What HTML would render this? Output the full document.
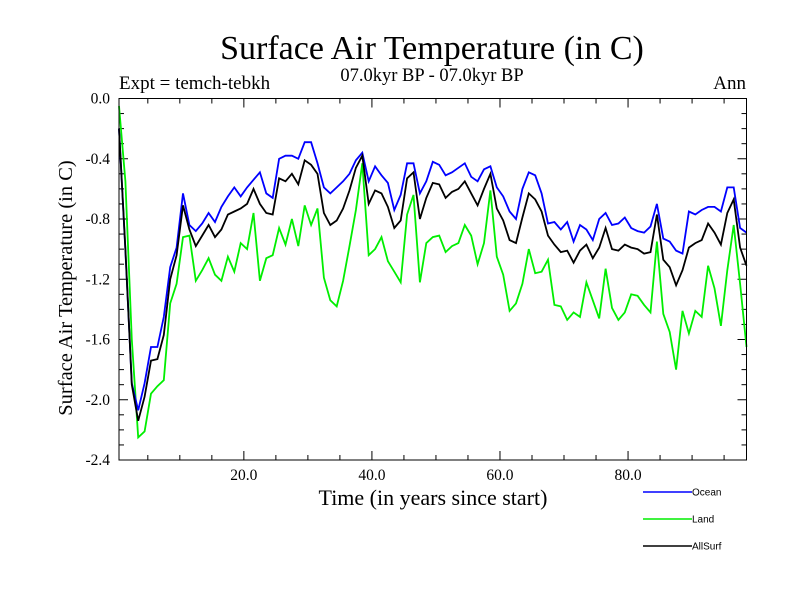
<!DOCTYPE html>
<html><head><meta charset="utf-8"><style>
body{margin:0;background:#fff}
svg{display:block}
text{font-family:"Liberation Serif",serif;fill:#000}
.leg{font-family:"Liberation Sans",sans-serif;font-size:10px}
</style></head><body>
<svg id="chart" width="800" height="600">
<text x="432" y="59" text-anchor="middle" font-size="34">Surface Air Temperature (in C)</text>
<text x="432" y="81" text-anchor="middle" font-size="18.5">07.0kyr BP - 07.0kyr BP</text>
<text x="119" y="89" font-size="19">Expt = temch-tebkh</text>
<text x="746" y="89" text-anchor="end" font-size="19">Ann</text>
<text transform="translate(72,288) rotate(-90)" text-anchor="middle" font-size="20.5">Surface Air Temperature (in C)</text>
<text x="433" y="505" text-anchor="middle" font-size="22">Time (in years since start)</text>
<g id="ticks"></g>
<g id="lines"></g>
<rect x="119" y="98.5" width="627.5" height="361.5" fill="none" stroke="#000" stroke-width="1"/>
<g>
<line x1="643" y1="492" x2="692" y2="492" stroke="#0000ff" stroke-width="1.5"/>
<text class="leg" x="692" y="495.5">Ocean</text>
<line x1="643" y1="519" x2="692" y2="519" stroke="#00ee00" stroke-width="1.5"/>
<text class="leg" x="692" y="522.5">Land</text>
<line x1="643" y1="546" x2="692" y2="546" stroke="#000" stroke-width="1.5"/>
<text class="leg" x="692" y="549.5">AllSurf</text>
</g>
</svg>
<script>
const ocean=[-0.20,-1.01,-1.89,-2.07,-1.89,-1.65,-1.65,-1.45,-1.12,-0.99,-0.63,-0.84,-0.88,-0.83,-0.76,-0.82,-0.72,-0.65,-0.59,-0.65,-0.59,-0.54,-0.49,-0.63,-0.66,-0.40,-0.38,-0.38,-0.40,-0.29,-0.29,-0.43,-0.59,-0.63,-0.59,-0.55,-0.50,-0.41,-0.36,-0.55,-0.45,-0.51,-0.56,-0.74,-0.64,-0.43,-0.43,-0.63,-0.55,-0.42,-0.44,-0.51,-0.49,-0.46,-0.43,-0.52,-0.55,-0.47,-0.45,-0.59,-0.65,-0.75,-0.80,-0.60,-0.49,-0.51,-0.63,-0.83,-0.82,-0.87,-0.82,-0.95,-0.84,-0.87,-0.94,-0.80,-0.76,-0.84,-0.83,-0.79,-0.86,-0.88,-0.89,-0.85,-0.70,-0.93,-0.95,-1.01,-1.03,-0.75,-0.77,-0.74,-0.72,-0.72,-0.75,-0.59,-0.59,-0.86,-0.89];
const land=[-0.05,-0.55,-1.60,-2.25,-2.21,-1.96,-1.91,-1.87,-1.36,-1.23,-0.92,-0.91,-1.21,-1.14,-1.06,-1.17,-1.21,-1.05,-1.15,-0.96,-1.00,-0.76,-1.21,-1.06,-1.04,-0.86,-0.97,-0.80,-0.98,-0.71,-0.84,-0.73,-1.19,-1.34,-1.38,-1.21,-0.98,-0.74,-0.43,-1.04,-1.00,-0.92,-1.08,-1.15,-1.22,-0.77,-0.64,-1.22,-0.96,-0.92,-0.91,-1.02,-0.98,-0.96,-0.84,-0.91,-1.10,-0.96,-0.61,-1.05,-1.17,-1.41,-1.36,-1.23,-1.00,-1.16,-1.15,-1.07,-1.37,-1.38,-1.47,-1.42,-1.45,-1.22,-1.34,-1.46,-1.13,-1.39,-1.47,-1.42,-1.30,-1.31,-1.37,-1.42,-0.95,-1.43,-1.55,-1.80,-1.41,-1.56,-1.41,-1.45,-1.11,-1.26,-1.51,-1.14,-0.84,-1.23,-1.65];
const allsurf=[-0.20,-1.00,-1.90,-2.14,-1.98,-1.74,-1.73,-1.57,-1.20,-1.04,-0.71,-0.87,-0.98,-0.91,-0.84,-0.92,-0.87,-0.77,-0.75,-0.73,-0.70,-0.60,-0.70,-0.76,-0.77,-0.53,-0.55,-0.50,-0.57,-0.41,-0.44,-0.50,-0.76,-0.84,-0.81,-0.73,-0.61,-0.46,-0.38,-0.70,-0.61,-0.63,-0.72,-0.86,-0.81,-0.53,-0.49,-0.80,-0.66,-0.56,-0.57,-0.66,-0.62,-0.60,-0.55,-0.63,-0.71,-0.60,-0.50,-0.73,-0.81,-0.94,-0.96,-0.79,-0.63,-0.67,-0.75,-0.91,-0.97,-1.02,-1.01,-1.09,-1.01,-0.97,-1.06,-0.99,-0.86,-1.00,-1.01,-0.97,-0.99,-1.00,-1.03,-1.02,-0.77,-1.07,-1.12,-1.24,-1.14,-0.99,-0.96,-0.94,-0.83,-0.89,-0.97,-0.76,-0.67,-0.99,-1.11];
const xTickLabels=["20.0","40.0","60.0","80.0"];
const xTickValues=[20,40,60,80];
const yTickLabels=["0.0","-0.4","-0.8","-1.2","-1.6","-2.0","-2.4"];
const yTickValues=[0,-0.4,-0.8,-1.2,-1.6,-2.0,-2.4];
const X0=0.5,X1=98.5,Y0=0,Y1=-2.4;
const L=119,R=746.5,T=98.5,B=460;
function xs(t){return L+(t-X0)/(X1-X0)*(R-L);}
function ys(v){return T+(v-Y0)/(Y1-Y0)*(B-T);}
const NS="http://www.w3.org/2000/svg";
const tg=document.getElementById('ticks');
function ln(x1,y1,x2,y2){const e=document.createElementNS(NS,'line');e.setAttribute('x1',x1);e.setAttribute('y1',y1);e.setAttribute('x2',x2);e.setAttribute('y2',y2);e.setAttribute('stroke','#000');e.setAttribute('stroke-width','1');


tg.appendChild(e);}
for(let t=5;t<X1;t+=5){const x=xs(t);const len=(t%20===0)?9:5;ln(x,B,x,B-len);ln(x,T,x,T+len);}
for(let k=0;k<=24;k++){const v=-k*0.1;const y=ys(v);const len=(k%4===0)?9:5;ln(L,y,L+len,y);ln(R,y,R-len,y);}
xTickValues.forEach((v,i)=>{const e=document.createElementNS(NS,'text');e.setAttribute('x',xs(v));e.setAttribute('y',480);e.setAttribute('text-anchor','middle');e.setAttribute('font-size','15.5');e.textContent=xTickLabels[i];


tg.appendChild(e);});
yTickValues.forEach((v,i)=>{const e=document.createElementNS(NS,'text');e.setAttribute('x',110);e.setAttribute('y',ys(v)+5);e.setAttribute('text-anchor','end');e.setAttribute('font-size','15.5');e.textContent=yTickLabels[i];


tg.appendChild(e);});
const lg=document.getElementById('lines');
function series(arr,color,name){const p=document.createElementNS(NS,'polyline');p.setAttribute('points',arr.map((v,i)=>xs(X0+i).toFixed(1)+','+ys(v).toFixed(1)).join(' '));p.setAttribute('fill','none');p.setAttribute('stroke',color);p.setAttribute('stroke-width','1.8');


lg.appendChild(p);}
series(land,'#00ee00','land-line');
series(ocean,'#0000ff','ocean-line');
series(allsurf,'#000000','allsurf-line');
</script>
</body></html>
